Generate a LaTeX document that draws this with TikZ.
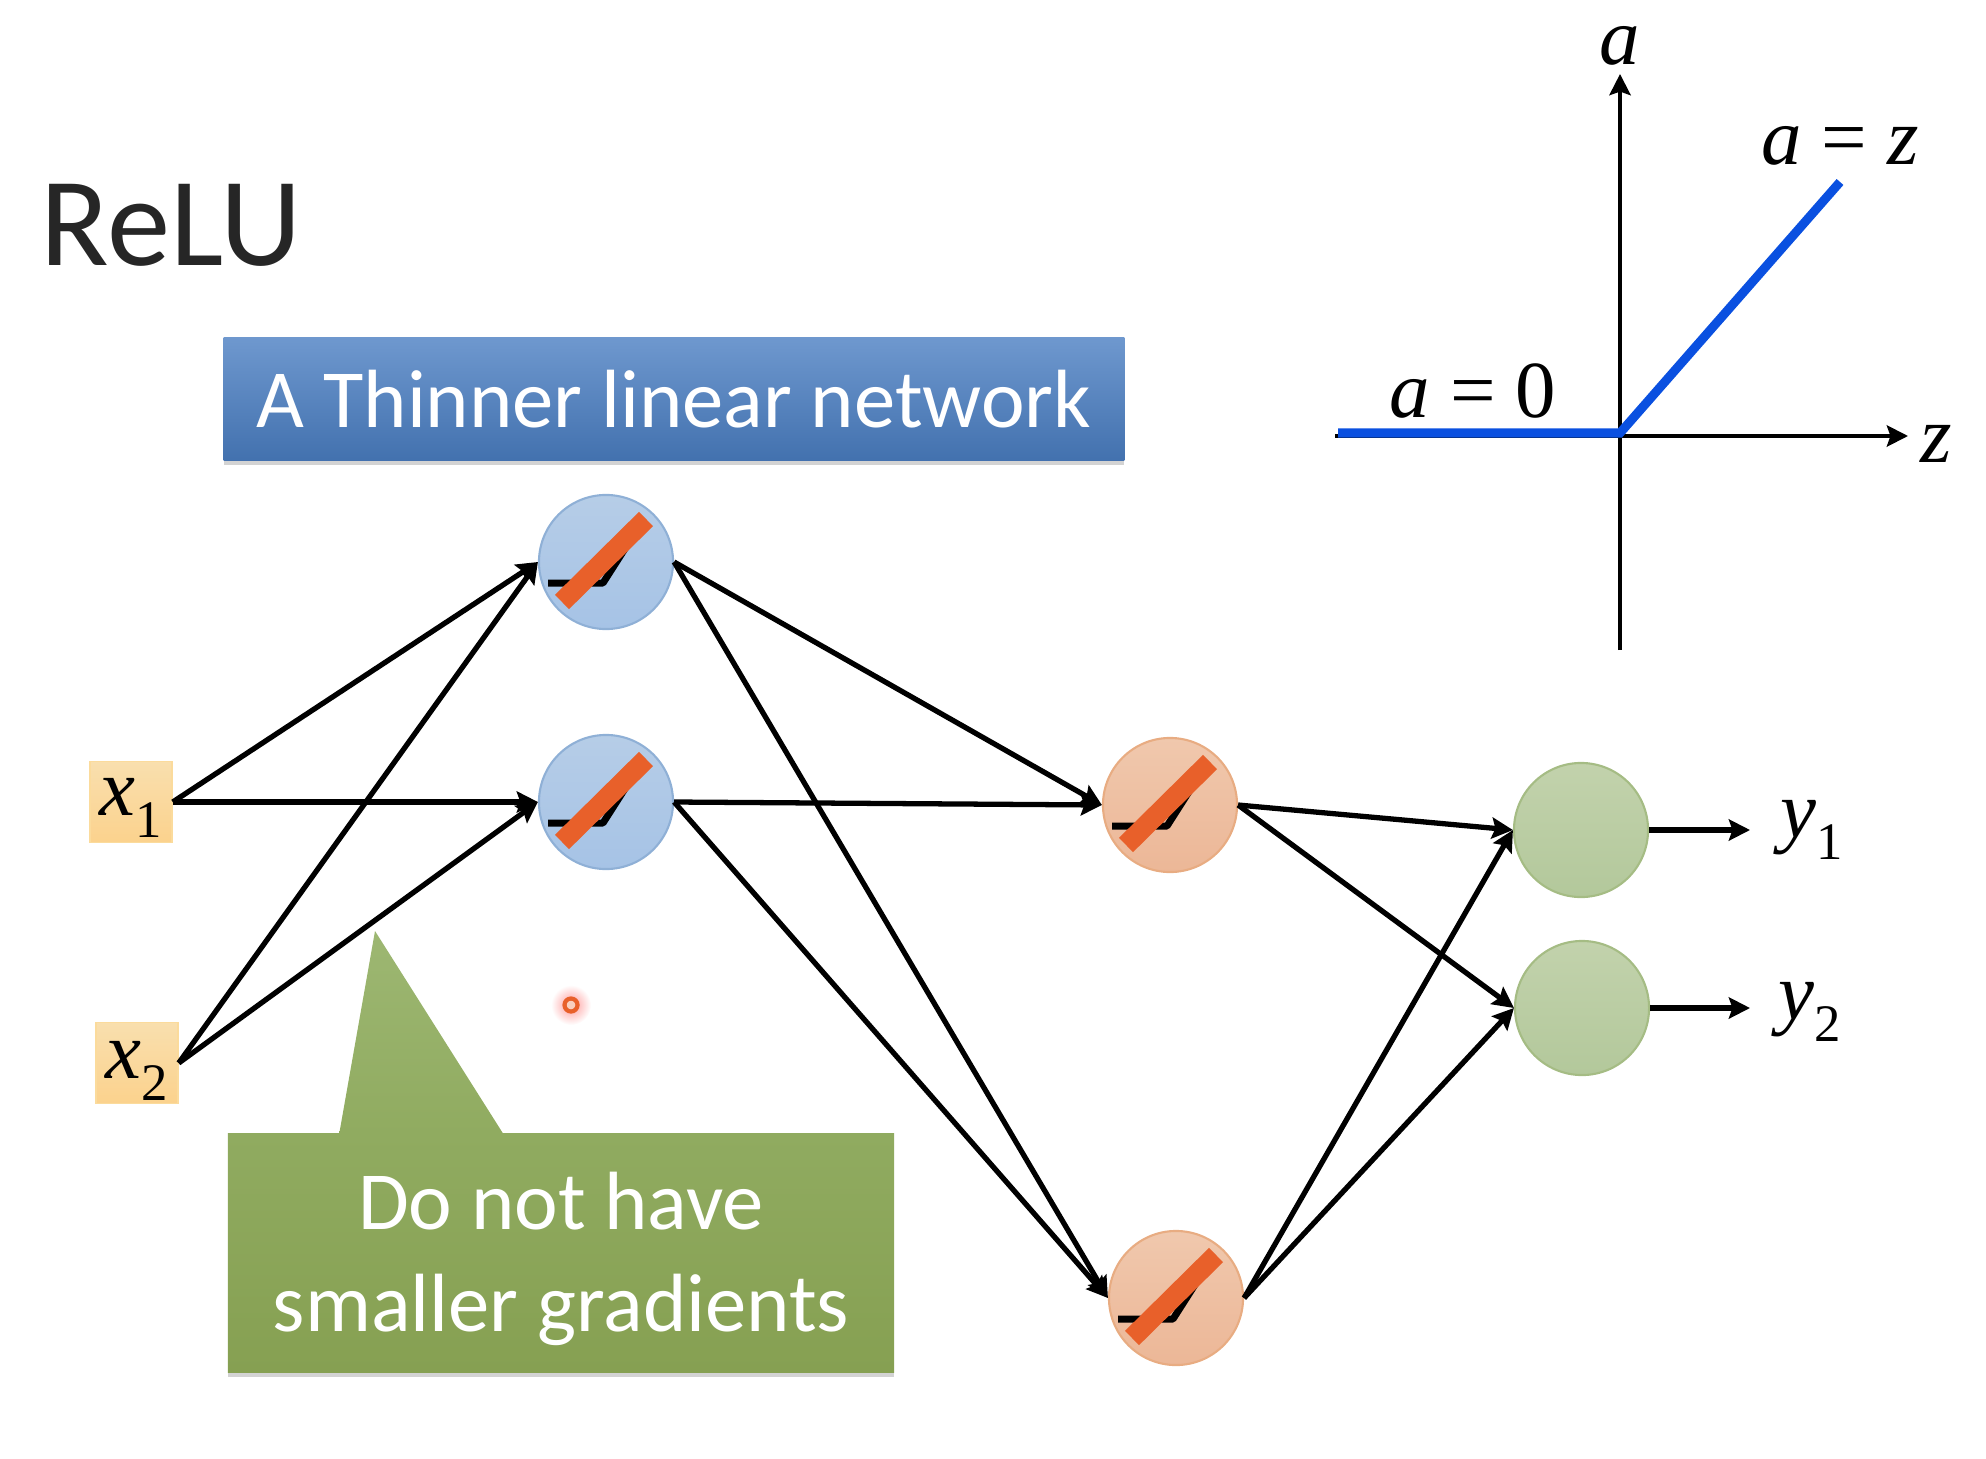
\documentclass[tikz,border=0pt]{standalone}
\usepackage{amsmath}
\usepackage{fontspec}
\setmainfont{Carlito}
\newfontfamily\labfont{Liberation Serif}
\usepackage{tikz}
\usetikzlibrary{positioning, arrows.meta, shadows}

\definecolor{barblue}{HTML}{4A7EC2}
\definecolor{slash}{HTML}{E8602A}
\definecolor{hline}{HTML}{8FB0D6}
\definecolor{htop}{HTML}{B6CDE7}
\definecolor{hbot}{HTML}{A6C3E6}
\definecolor{mline}{HTML}{E8AC82}
\definecolor{mtop}{HTML}{F0C8AD}
\definecolor{mbot}{HTML}{ECB797}
\definecolor{yline}{HTML}{A5BC84}
\definecolor{ytop}{HTML}{C2D2AC}
\definecolor{ybot}{HTML}{B3C89B}
\definecolor{boxline}{HTML}{FBDB9C}
\definecolor{boxtop}{HTML}{F9DFAE}
\definecolor{boxbot}{HTML}{FBD28D}
\definecolor{grtop}{HTML}{9DB772}
\definecolor{grmid}{HTML}{90AB60}
\definecolor{grbot}{HTML}{86A052}
\definecolor{plotblue}{HTML}{0A50E0}

\tikzset{
    conn/.style={line width=1.5pt, -{Stealth[length=6pt, width=6pt, inset=1pt]}},
    axis/.style={line width=1.2pt, -{Stealth[length=6pt, width=6pt, inset=1pt]}},
    unit/.style={circle, minimum size=1.34cm, inner sep=0pt, line width=0.6pt},
    hunit/.style={unit, draw=hline, top color=htop, bottom color=hbot},
    munit/.style={unit, draw=mline, top color=mtop, bottom color=mbot},
    yunit/.style={unit, draw=yline, top color=ytop, bottom color=ybot},
    inbox/.style={rectangle, inner sep=0pt, minimum width=0.82cm, minimum height=0.81cm,
        draw=boxline, top color=boxtop, bottom color=boxbot},
    lab/.style={font=\labfont\fontsize{23}{28}\selectfont, inner sep=0pt},
    relu/.style={line width=0.09cm, color=plotblue},
    heading/.style={rectangle, minimum width=9cm, minimum height=1.22cm, text=white,
        font=\fontsize{23.5}{28}\selectfont, top color=barblue!80!white, bottom color=barblue!90!black,
        drop shadow={shadow xshift=0pt, shadow yshift=-1.5pt, opacity=0.35}},
    callout/.style={rectangle, minimum width=6.66cm, minimum height=2.38cm,
        top color=grmid, bottom color=grbot,
        drop shadow={shadow xshift=0pt, shadow yshift=-1.5pt, opacity=0.35}},
    calltext/.style={text=white, align=center, font=\fontsize{23.5}{29}\selectfont},
    glow/.style={circle, minimum size=0.40cm, inner sep=0pt, inner color=red!40!white, outer color=white},
    laserdot/.style={circle, minimum size=0.13cm, inner sep=0pt, draw=slash, line width=1.2pt, fill=white!70!slash},
}

% small ramp drawn inside a unit
\newcommand{\rampicon}[1]{
    \draw [shift={(#1)}, line width=0.07cm, line join=round] (-58, 21) -- (-3, 21) -- (36, -40);
    \draw [shift={(#1)}, line width=0.2cm, color=slash] (-44, 40) -- (40, -43);
}
% letters and subscripts of the labels
\newcommand{\mv}[1]{\textit{#1}}
\newcommand{\sbs}[1]{\raisebox{-0.28em}{\fontsize{15}{15}\selectfont #1}}

\begin{document}
\begin{tikzpicture}[x=0.01cm, y=-0.01cm]
    \useasboundingbox (0, 0) rectangle (1986, 1458);

    \node [anchor=west, inner sep=0pt, text=black!85, font=\fontsize{36}{40}\selectfont] (title) at (40, 225) {ReLU};
    \node [heading] (bar) at (674, 399) {A Thinner linear network};

    \node [inbox] (x1) at (131, 802) {};
    \node [inbox] (x2) at (137, 1063) {};
    \node [lab] (x1lab) at (131, 808) {\mv{x}\sbs{1}};
    \node [lab] (x2lab) at (137, 1071) {\mv{x}\sbs{2}};

    \node [hunit] (h1) at (606, 562) {};
    \node [hunit] (h2) at (606, 802) {};
    \node [munit] (m1) at (1170, 805) {};
    \node [munit] (m2) at (1176, 1298) {};
    \node [yunit] (y1) at (1581, 830) {};
    \node [yunit] (y2) at (1582, 1008) {};

    \rampicon{h1}
    \rampicon{h2}
    \rampicon{m1}
    \rampicon{m2}

    \draw [conn] (x1.east) -- (h1.west);
    \draw [conn] (x1.east) -- (h2.west);
    \draw [conn] (x2.east) -- (h1.west);
    \draw [conn] (x2.east) -- (h2.west);
    \draw [conn] (h1.east) -- (m1.west);
    \draw [conn] (h1.east) -- (m2.west);
    \draw [conn] (h2.east) -- (m1.west);
    \draw [conn] (h2.east) -- (m2.west);
    \draw [conn] (m1.east) -- (y1.west);
    \draw [conn] (m1.east) -- (y2.west);
    \draw [conn] (m2.east) -- (y1.west);
    \draw [conn] (m2.east) -- (y2.west);

    \node [lab] (out1) at (1812, 830) {\mv{y}\sbs{1}};
    \node [lab] (out2) at (1810, 1012) {\mv{y}\sbs{2}};
    \coordinate (end1) at (1750, 830);
    \coordinate (end2) at (1750, 1008);
    \draw [conn] (y1.east) -- (end1);
    \draw [conn] (y2.east) -- (end2);

    % callout with its tail
    \node [callout] (note) at (561, 1253) {};
    \node [calltext] (notetext) at (561, 1259) {Do not have\\smaller gradients};
    \coordinate (tip) at (375, 931);
    \coordinate (tailL) at (339, 1135);
    \coordinate (tailR) at (504, 1135);
    \shade [top color=grtop, bottom color=grmid] (tailL) -- (tip) -- (tailR) -- cycle;

    \node [glow] (spot) at (571, 1005) {};
    \node [laserdot] (dot) at (571, 1005) {};

    % the small plot in the corner
    \coordinate (aneg) at (1620, 650);
    \coordinate (zneg) at (1335, 436);
    \node [lab] (alab) at (1620, 46) {\mv{a}};
    \node [lab] (zlab) at (1936, 444) {\mv{z}};
    \coordinate (apos) at (1620, 74);
    \coordinate (zpos) at (1908, 436);
    \draw [axis] (aneg) -- (apos);
    \draw [axis] (zneg) -- (zpos);
    \coordinate (bluel) at (1338, 433);
    \coordinate (bluem) at (1620, 433);
    \coordinate (bluer) at (1840, 182);
    \draw [relu] (bluel) -- (bluem) -- (bluer);
    \node [lab] (eqz) at (1840, 146) {\mv{a} = \mv{z}};
    \node [lab] (eq0) at (1473, 391) {\mv{a} = 0};
\end{tikzpicture}
\end{document}
